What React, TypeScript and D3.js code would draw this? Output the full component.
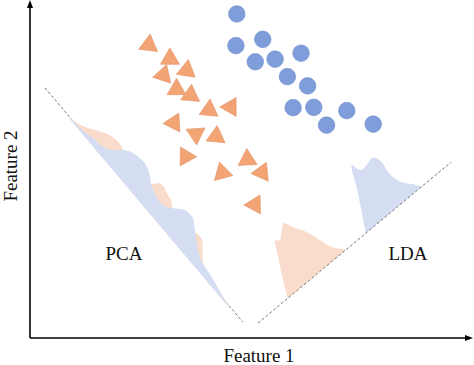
import React from 'react';
import * as d3 from 'd3';

const W = 474;
const H = 365;

// Class 1 (circles) in feature space
const circleX = [4.70, 4.68, 5.29, 5.12, 5.57, 6.16, 5.85, 6.31, 5.98, 6.45, 7.20, 6.74, 7.80];
const circleY = [9.82, 8.86, 9.05, 8.37, 8.45, 8.63, 7.92, 7.64, 6.98, 6.99, 6.89, 6.45, 6.48];

// Class 2 (triangles) in feature space, with marker orientation (deg)
const triX = [2.70, 3.18, 3.56, 3.03, 3.33, 3.65, 4.07, 4.56, 3.27, 3.77, 4.23, 3.54, 4.94, 4.37, 5.27, 5.11];
const triY = [8.88, 8.46, 8.11, 7.97, 7.54, 7.36, 6.91, 7.00, 6.52, 6.18, 6.11, 5.50, 5.41, 5.01, 5.02, 4.04];
const triAngle = [-83, -90, -81, -72, -90, -85, -85, 180, 177, 86, -85, 1, -93, -105, 174, 178];

// Projection axes (endpoints in feature space)
const pcaAxis: [number, number][] = [[0.34, 7.58], [4.84, 0.48]];
const ldaAxis: [number, number][] = [[5.18, 0.45], [9.57, 5.33]];

// PCA projected densities (position along axis 0..1, density)
const pcaBluePos = [0.132, 0.173, 0.226, 0.269, 0.298, 0.319, 0.347, 0.384, 0.412, 0.443, 0.472, 0.508, 0.522, 0.545, 0.562, 0.590, 0.610, 0.636, 0.669, 0.706, 0.747, 0.783, 0.822, 0.863, 0.896, 0.930];
const pcaBlue = [0, 0.9, 4.3, 6.2, 11.8, 19.4, 25.1, 27.5, 26.8, 22.6, 17.6, 15.1, 14.0, 15.0, 17.9, 26.3, 29.0, 28.9, 22.8, 15.9, 9.1, 6.5, 5.3, 2.8, 0.8, 0];
const pcaOrangePos = [0.132, 0.166, 0.196, 0.225, 0.254, 0.287, 0.313, 0.352, 0.408, 0.450, 0.467, 0.480, 0.499, 0.519, 0.542, 0.561, 0.604, 0.653, 0.682, 0.708, 0.734, 0.754, 0.783, 0.881, 0.930];
const pcaOrange = [0, 3, 8, 14, 19, 21, 20, 14, 10, 14, 21, 26, 27, 25, 24, 21, 15, 16, 22, 22, 16, 11, 6, 2, 0];

// LDA projected densities
const ldaOrangePos = [0.155, 0.159, 0.167, 0.173, 0.177, 0.197, 0.218, 0.236, 0.267, 0.304, 0.339, 0.371, 0.405, 0.444, 0.458];
const ldaOrange = [0, 18.4, 37.7, 52.4, 56.9, 53.7, 60.6, 65, 55.5, 46.1, 35, 22.2, 11.1, 2.6, 0];
const ldaBluePos = [0.559, 0.569, 0.580, 0.589, 0.610, 0.629, 0.657, 0.680, 0.700, 0.716, 0.726, 0.742, 0.772, 0.811, 0.840, 0.852];
const ldaBlue = [0, 20.2, 43.5, 66.1, 58.0, 55.2, 56.7, 58.1, 54.6, 47.8, 37.8, 27.9, 17.4, 8.9, 1.7, 0];

const BLUE = '#7f9ddb';
const BLUE_STROKE = '#6f8dcc';
const ORANGE = '#f2a475';
const ORANGE_STROKE = '#e4956a';
const BLUE_LIGHT = '#d5ddf2';
const ORANGE_LIGHT = '#f9dccb';
const FONT = "'Liberation Serif', 'Times New Roman', serif";

const x = d3.scaleLinear().domain([0, 10]).range([30, 470]);
const y = d3.scaleLinear().domain([0, 10]).range([338, 8]);
const density = d3.scaleLinear().domain([0, 100]).range([0, 100]);

type Pt = { bx: number; by: number; tx: number; ty: number };

function frame(axis: [number, number][], tiltDeg: number) {
  const p0 = [x(axis[0][0]), y(axis[0][1])];
  const p1 = [x(axis[1][0]), y(axis[1][1])];
  const dx = p1[0] - p0[0];
  const dy = p1[1] - p0[1];
  const L = Math.hypot(dx, dy);
  const ux = dx / L;
  const uy = dy / L;
  const nx = uy;
  const ny = -ux;
  const a = (tiltDeg * Math.PI) / 180;
  const vx = nx * Math.cos(a) - ny * Math.sin(a);
  const vy = nx * Math.sin(a) + ny * Math.cos(a);
  const along = d3.scaleLinear().domain([0, 1]).range([0, L]);
  return { p0, p1, ux, uy, vx, vy, along };
}

function densityPath(f: ReturnType<typeof frame>, pos: number[], vals: number[], baseOffset = 0) {
  const pts: Pt[] = pos.map((p, i) => {
    const s = f.along(p);
    const bx = f.p0[0] + f.ux * s + f.vx * baseOffset;
    const by = f.p0[1] + f.uy * s + f.vy * baseOffset;
    const h = density(vals[i]);
    return { bx, by, tx: f.p0[0] + f.ux * s + f.vx * h, ty: f.p0[1] + f.uy * s + f.vy * h };
  });
  return d3
    .area<Pt>()
    .x0((d) => d.bx)
    .y0((d) => d.by)
    .x1((d) => d.tx)
    .y1((d) => d.ty)
    .curve(d3.curveCatmullRom.alpha(0.5))(pts) as string;
}

export default function App() {
  const pca = frame(pcaAxis, 0);
  const lda = frame(ldaAxis, 22.3);
  const tri = d3.symbol().type(d3.symbolTriangle).size(157);
  const triPath = tri() as string;

  return (
    <svg
      width={W}
      height={H}
      style={{ position: 'absolute', left: 0, top: 0, background: '#fff' }}
      xmlns="http://www.w3.org/2000/svg"
    >
      <rect width={W} height={H} fill="#fff" />

      {/* PCA projection axis (under densities) */}
      <line
        x1={pca.p0[0]}
        y1={pca.p0[1]}
        x2={pca.p1[0]}
        y2={pca.p1[1]}
        stroke="#7a7a7a"
        strokeWidth={1}
        strokeDasharray="3 2"
      />
      <path d={densityPath(pca, pcaOrangePos, pcaOrange, -1)} fill={ORANGE_LIGHT} />
      <path d={densityPath(pca, pcaBluePos, pcaBlue, -1.2)} fill={BLUE_LIGHT} />

      {/* LDA densities */}
      <path d={densityPath(lda, ldaOrangePos, ldaOrange)} fill={ORANGE_LIGHT} />
      <path d={densityPath(lda, ldaBluePos, ldaBlue)} fill={BLUE_LIGHT} />
      <line
        x1={lda.p0[0]}
        y1={lda.p0[1]}
        x2={lda.p1[0]}
        y2={lda.p1[1]}
        stroke="#7a7a7a"
        strokeWidth={1}
        strokeDasharray="3 2"
      />

      {/* Triangles */}
      {triX.map((v, i) => (
        <path
          key={'t' + i}
          d={triPath}
          transform={`translate(${x(v)},${y(triY[i])}) rotate(${triAngle[i] + 90})`}
          fill={ORANGE}
          stroke={ORANGE_STROKE}
          strokeWidth={0.6}
          strokeLinejoin="round"
        />
      ))}

      {/* Circles */}
      {circleX.map((v, i) => (
        <circle
          key={'c' + i}
          cx={x(v)}
          cy={y(circleY[i])}
          r={8.3}
          fill={BLUE}
          stroke={BLUE_STROKE}
          strokeWidth={0.6}
        />
      ))}

      {/* Axes */}
      <line x1={x(0)} y1={y(0)} x2={x(0)} y2={6} stroke="#000" strokeWidth={1.6} />
      <path d={`M${x(0)},0 L${x(0) - 3},8 L${x(0) + 3},8 Z`} fill="#000" />
      <line x1={x(0)} y1={y(0)} x2={466} y2={y(0)} stroke="#000" strokeWidth={1.6} />
      <path d={`M473,${y(0)} L465,${y(0) - 3} L465,${y(0) + 3} Z`} fill="#000" />

      <text x={259} y={362} textAnchor="middle" fontFamily={FONT} fontSize={19} fill="#111">
        Feature 1
      </text>
      <text
        transform="translate(16.5,166) rotate(-90)"
        textAnchor="middle"
        fontFamily={FONT}
        fontSize={19}
        fill="#111"
      >
        Feature 2
      </text>
      <text x={124} y={260} textAnchor="middle" fontFamily={FONT} fontSize={19} fill="#111">
        PCA
      </text>
      <text x={408} y={260} textAnchor="middle" fontFamily={FONT} fontSize={19} fill="#111">
        LDA
      </text>
    </svg>
  );
}
